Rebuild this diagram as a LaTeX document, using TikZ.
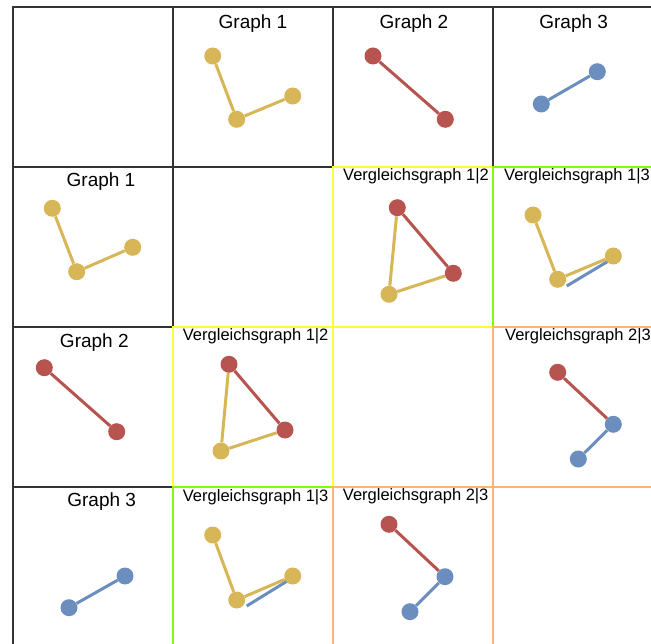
\documentclass[tikz,border=0pt]{standalone}
\usepackage{fontspec}
\setmainfont{Liberation Sans}
\definecolor{gold}{HTML}{D6B656}
\definecolor{brick}{HTML}{B85450}
\definecolor{steel}{HTML}{6C8EBF}
\definecolor{lemon}{HTML}{FFFF33}
\definecolor{lime}{HTML}{80FF00}
\definecolor{apricot}{HTML}{FFB570}
\definecolor{frame}{HTML}{333333}
\tikzset{
  vtx/.style={circle,minimum size=17pt,inner sep=0pt},
  gv/.style={vtx,fill=gold},
  rv/.style={vtx,fill=brick},
  bv/.style={vtx,fill=steel},
  ge/.style={draw=gold,line width=3pt},
  re/.style={draw=brick,line width=3pt},
  be/.style={draw=steel,line width=3pt},
  ttl/.style={anchor=base,inner sep=0pt,font=\fontsize{19}{22}\selectfont},
  vtl/.style={anchor=base west,inner sep=0pt,font=\fontsize{16.5}{19}\selectfont},
}
\begin{document}
\begin{tikzpicture}[x=1pt,y=-1pt]
\useasboundingbox[fill=white] (0,0) rectangle (651,644);
% grid: header row and column
\foreach \i in {0,...,3}{
  \draw[frame,line width=2pt] (13+160*\i,7) rectangle (173+160*\i,167);
  \draw[frame,line width=2pt] (13,7+160*\i) rectangle (173,167+160*\i);
}
% comparison cells
\draw[lemon,line width=2pt] (333,167) rectangle (493,327);
\draw[lemon,line width=2pt] (173,327) rectangle (333,487);
\draw[lime,line width=2pt] (493,167) rectangle (653,327);
\draw[lime,line width=2pt] (173,487) rectangle (333,647);
\draw[apricot,line width=2pt] (493,327) rectangle (653,487);
\draw[apricot,line width=2pt] (333,487) rectangle (493,647);
% titles
\node[ttl] (h1) at (253,28.3) {Graph 1};
\node[ttl] (h2) at (414,28.3) {Graph 2};
\node[ttl] (h3) at (573.7,28.3) {Graph 3};
\node[ttl] (r1) at (101,186.7) {Graph 1};
\node[ttl] (r2) at (94.3,347.7) {Graph 2};
\node[ttl] (r3) at (101.7,506.7) {Graph 3};
\node[vtl] (c12) at (343,180.7) {Vergleichsgraph 1|2};
\node[vtl] (c13) at (504,180.7) {Vergleichsgraph 1|3};
\node[vtl] (c21) at (182.7,340.7) {Vergleichsgraph 1|2};
\node[vtl] (c23) at (505,340.3) {Vergleichsgraph 2|3};
\node[vtl] (c31) at (182.7,501) {Vergleichsgraph 1|3};
\node[vtl] (c32) at (342.7,500.7) {Vergleichsgraph 2|3};
% Graph 1 (top)
\node[gv] (ta1) at (212.7,56) {};
\node[gv] (ta2) at (236.7,119.3) {};
\node[gv] (ta3) at (292.7,96) {};
\draw[ge] (ta1) -- (ta2) -- (ta3);
% Graph 2 (top)
\node[rv] (tb1) at (373,56) {};
\node[rv] (tb2) at (445.3,119.3) {};
\draw[re] (tb1) -- (tb2);
% Graph 3 (top)
\node[bv] (tc1) at (541.3,104) {};
\node[bv] (tc2) at (597.3,71.7) {};
\draw[be] (tc1) -- (tc2);
% Graph 1 (left)
\node[gv] (la1) at (52.3,208.3) {};
\node[gv] (la2) at (76.7,271.7) {};
\node[gv] (la3) at (132.7,247.3) {};
\draw[ge] (la1) -- (la2) -- (la3);
% Graph 2 (left)
\node[rv] (lb1) at (44.3,367.7) {};
\node[rv] (lb2) at (116.7,431.7) {};
\draw[re] (lb1) -- (lb2);
% Graph 3 (left)
\node[bv] (lc1) at (69,607.7) {};
\node[bv] (lc2) at (125,576) {};
\draw[be] (lc1) -- (lc2);
% Vergleichsgraph 1|2
\node[gv] (p3) at (389,294.3) {};
\node[rv] (p1) at (397.3,207.7) {};
\node[rv] (p2) at (453.3,273.3) {};
\draw[ge] (p1) -- (p3) -- (p2);
\draw[re] (p1) -- (p2);
\node[gv] (q3) at (221,451) {};
\node[rv] (q1) at (229,364.3) {};
\node[rv] (q2) at (285,430) {};
\draw[ge] (q1) -- (q3) -- (q2);
\draw[re] (q1) -- (q2);
% Vergleichsgraph 1|3
\coordinate (s1) at (566.7,286);
\coordinate (s2) at (607.3,261.7);
\draw[be] (s1) -- (s2);
\node[gv] (sa1) at (533,215) {};
\node[gv] (sa2) at (557.7,279.3) {};
\node[gv] (sa3) at (613.3,256) {};
\draw[ge] (sa1) -- (sa2) -- (sa3);
\coordinate (u1) at (246.7,606);
\coordinate (u2) at (287.3,581);
\draw[be] (u1) -- (u2);
\node[gv] (ua1) at (212.7,535) {};
\node[gv] (ua2) at (236.7,600) {};
\node[gv] (ua3) at (292.7,576) {};
\draw[ge] (ua1) -- (ua2) -- (ua3);
% Vergleichsgraph 2|3
\node[rv] (m1) at (557.7,372.3) {};
\node[bv] (m2) at (613.3,424.3) {};
\node[bv] (m3) at (578.3,459) {};
\draw[re] (m1) -- (m2);
\draw[be] (m2) -- (m3);
\node[rv] (n1) at (389,524.3) {};
\node[bv] (n2) at (445,576.7) {};
\node[bv] (n3) at (410,611.7) {};
\draw[re] (n1) -- (n2);
\draw[be] (n2) -- (n3);
\end{tikzpicture}
\end{document}
